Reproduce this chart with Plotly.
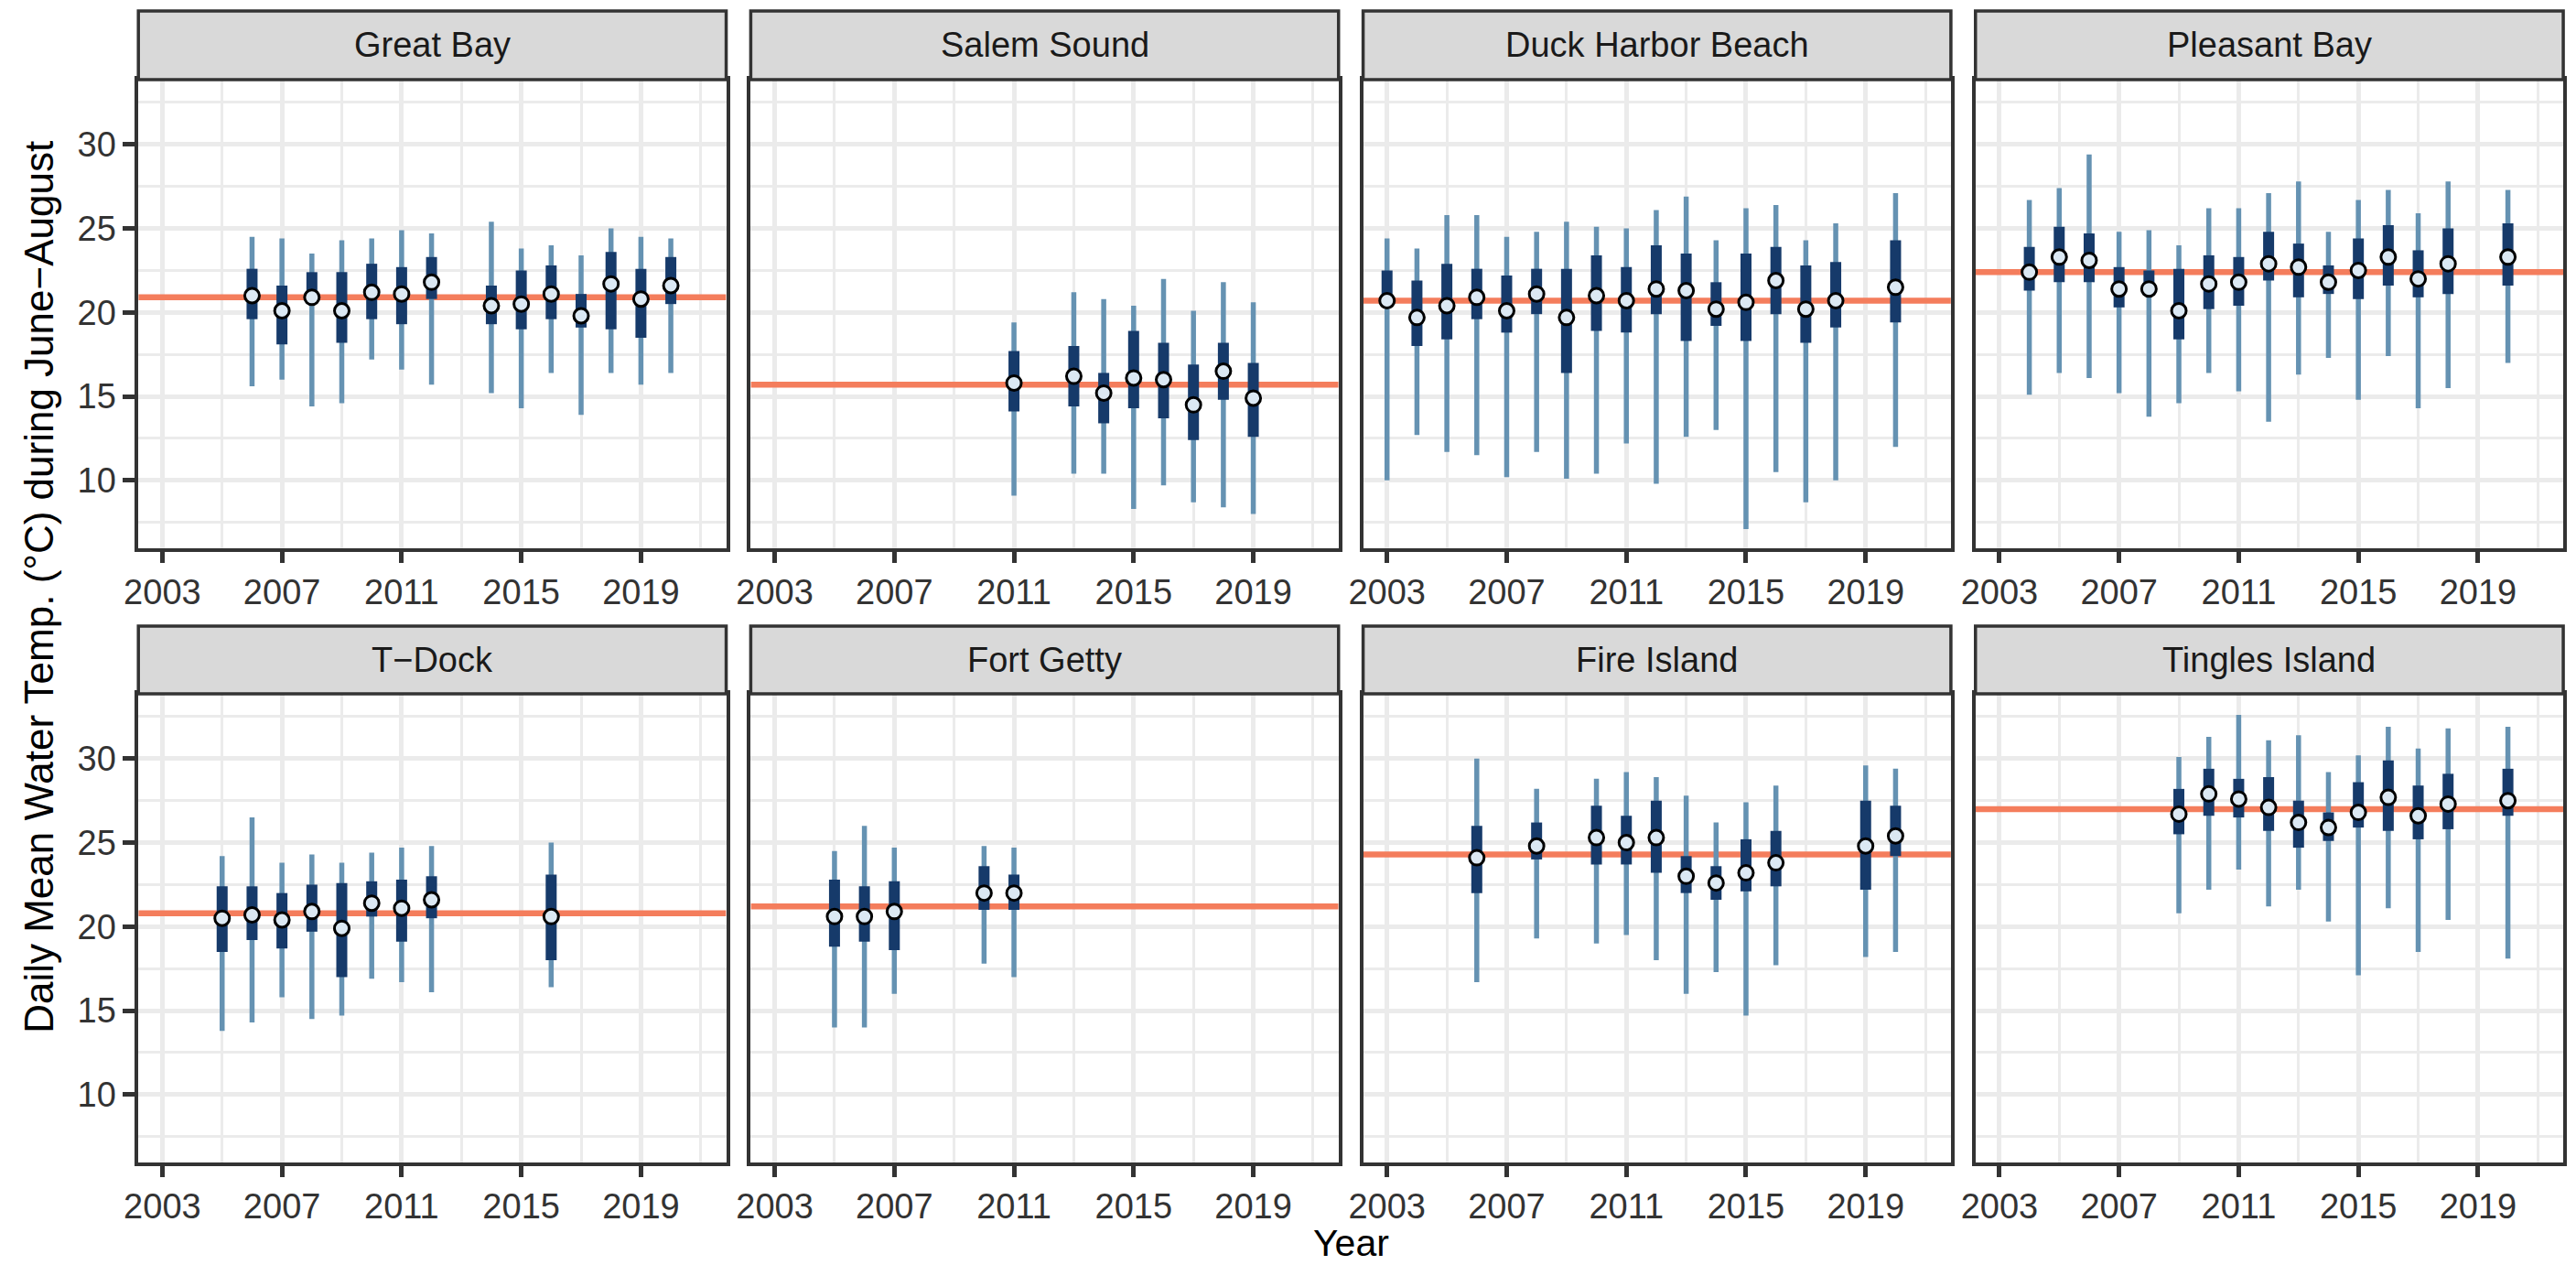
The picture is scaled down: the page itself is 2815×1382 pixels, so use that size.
"""Summer water temperature by year, one facet per site (ggplot-style grid)."""

import plotly.graph_objects as go

WIDTH, HEIGHT = 2815, 1382
FONT = "Liberation Sans, Arial, Helvetica, sans-serif"

THIN_COLOR = "#6592b2"
THICK_COLOR = "#163a6a"
POINT_FILL = "#dbe8f3"
MEAN_COLOR = "#f47d5c"
GRID_COLOR = "#ebebeb"
BORDER_COLOR = "#333333"
STRIP_FILL = "#d9d9d9"

SITES = [
    "Great Bay", "Salem Sound", "Duck Harbor Beach", "Pleasant Bay",
    "T−Dock", "Fort Getty", "Fire Island", "Tingles Island",
]
SITE_MEANS = [20.9, 15.7, 20.7, 22.4, 20.8, 21.2, 24.3, 27.0]

# low = thin bar bottom, q1/q3 = thick bar, mid = point, high = thin bar top
GREAT_BAY_YEARS = [2006, 2007, 2008, 2009, 2010, 2011, 2012, 2014, 2015, 2016, 2017, 2018, 2019, 2020]
GREAT_BAY_LOW = [15.6, 16.0, 14.4, 14.6, 17.2, 16.6, 15.7, 15.2, 14.3, 16.4, 13.9, 16.4, 15.7, 16.4]
GREAT_BAY_Q1 = [19.6, 18.1, 20.5, 18.2, 19.6, 19.3, 20.8, 19.3, 19.0, 19.6, 19.1, 19.0, 18.5, 20.5]
GREAT_BAY_MID = [21.0, 20.1, 20.9, 20.1, 21.2, 21.1, 21.8, 20.4, 20.5, 21.1, 19.8, 21.7, 20.8, 21.6]
GREAT_BAY_Q3 = [22.6, 21.6, 22.4, 22.4, 22.9, 22.7, 23.3, 21.6, 22.5, 22.8, 21.1, 23.6, 22.6, 23.3]
GREAT_BAY_HIGH = [24.5, 24.4, 23.5, 24.3, 24.4, 24.9, 24.7, 25.4, 23.8, 24.0, 23.4, 25.0, 24.5, 24.4]

SALEM_YEARS = [2011, 2013, 2014, 2015, 2016, 2017, 2018, 2019]
SALEM_LOW = [9.1, 10.4, 10.4, 8.3, 9.7, 8.7, 8.4, 8.0]
SALEM_Q1 = [14.1, 14.4, 13.4, 14.3, 13.7, 12.4, 14.8, 12.6]
SALEM_MID = [15.8, 16.2, 15.2, 16.1, 16.0, 14.5, 16.5, 14.9]
SALEM_Q3 = [17.7, 18.0, 16.4, 18.9, 18.2, 16.9, 18.2, 17.0]
SALEM_HIGH = [19.4, 21.2, 20.8, 20.4, 22.0, 20.1, 21.8, 20.6]

DUCK_YEARS = [2003, 2004, 2005, 2006, 2007, 2008, 2009, 2010, 2011, 2012, 2013, 2014, 2015, 2016, 2017, 2018, 2020]
DUCK_LOW = [10.0, 12.7, 11.7, 11.5, 10.2, 11.7, 10.1, 10.4, 12.2, 9.8, 12.6, 13.0, 7.1, 10.5, 8.7, 10.0, 12.0]
DUCK_Q1 = [20.4, 18.0, 18.4, 19.6, 18.8, 19.9, 16.4, 18.9, 18.8, 19.9, 18.3, 19.2, 18.3, 19.9, 18.2, 19.1, 19.4]
DUCK_MID = [20.7, 19.7, 20.4, 20.9, 20.1, 21.1, 19.7, 21.0, 20.7, 21.4, 21.3, 20.2, 20.6, 21.9, 20.2, 20.7, 21.5]
DUCK_Q3 = [22.5, 21.9, 22.9, 22.6, 22.2, 22.6, 22.6, 23.4, 22.7, 24.0, 23.5, 21.8, 23.5, 23.9, 22.8, 23.0, 24.3]
DUCK_HIGH = [24.4, 23.8, 25.8, 25.8, 24.5, 24.8, 25.4, 25.1, 25.0, 26.1, 26.9, 24.3, 26.2, 26.4, 24.3, 25.3, 27.1]

PLEASANT_YEARS = [2004, 2005, 2006, 2007, 2008, 2009, 2010, 2011, 2012, 2013, 2014, 2015, 2016, 2017, 2018, 2020]
PLEASANT_LOW = [15.1, 16.4, 16.1, 15.2, 13.8, 14.6, 16.4, 15.3, 13.5, 16.3, 17.3, 14.8, 17.4, 14.3, 15.5, 17.0]
PLEASANT_Q1 = [21.3, 21.8, 21.8, 20.3, 21.0, 18.4, 20.2, 20.4, 21.9, 20.9, 21.1, 20.8, 21.6, 20.9, 21.1, 21.6]
PLEASANT_MID = [22.4, 23.3, 23.1, 21.4, 21.4, 20.1, 21.7, 21.8, 22.9, 22.7, 21.8, 22.5, 23.3, 22.0, 22.9, 23.3]
PLEASANT_Q3 = [23.9, 25.1, 24.7, 22.7, 22.5, 22.6, 23.4, 23.3, 24.8, 24.1, 22.8, 24.4, 25.2, 23.7, 25.0, 25.3]
PLEASANT_HIGH = [26.7, 27.4, 29.4, 24.8, 24.9, 24.0, 26.2, 26.2, 27.1, 27.8, 24.8, 26.7, 27.3, 25.9, 27.8, 27.3]

TDOCK_YEARS = [2005, 2006, 2007, 2008, 2009, 2010, 2011, 2012, 2016]
TDOCK_LOW = [13.8, 14.3, 15.8, 14.5, 14.7, 16.9, 16.7, 16.1, 16.4]
TDOCK_Q1 = [18.5, 19.2, 18.7, 19.7, 17.0, 20.6, 19.1, 20.5, 18.0]
TDOCK_MID = [20.5, 20.7, 20.4, 20.9, 19.9, 21.4, 21.1, 21.6, 20.6]
TDOCK_Q3 = [22.4, 22.4, 22.0, 22.5, 22.6, 22.7, 22.8, 23.0, 23.1]
TDOCK_HIGH = [24.2, 26.5, 23.8, 24.3, 23.8, 24.4, 24.7, 24.8, 25.0]

GETTY_YEARS = [2005, 2006, 2007, 2010, 2011]
GETTY_LOW = [14.0, 14.0, 16.0, 17.8, 17.0]
GETTY_Q1 = [18.8, 19.1, 18.6, 21.0, 21.0]
GETTY_MID = [20.6, 20.6, 20.9, 22.0, 22.0]
GETTY_Q3 = [22.8, 22.4, 22.7, 23.6, 23.1]
GETTY_HIGH = [24.5, 26.0, 24.7, 24.8, 24.7]

FIRE_YEARS = [2006, 2008, 2010, 2011, 2012, 2013, 2014, 2015, 2016, 2019, 2020]
FIRE_LOW = [16.7, 19.3, 19.0, 19.5, 18.0, 16.0, 17.3, 14.7, 17.7, 18.2, 18.5]
FIRE_Q1 = [22.0, 24.0, 23.7, 23.7, 23.2, 22.0, 21.6, 22.1, 22.4, 22.2, 24.2]
FIRE_MID = [24.1, 24.8, 25.3, 25.0, 25.3, 23.0, 22.6, 23.2, 23.8, 24.8, 25.4]
FIRE_Q3 = [26.0, 26.2, 27.2, 26.6, 27.5, 24.2, 23.6, 25.2, 25.7, 27.5, 27.2]
FIRE_HIGH = [30.0, 28.2, 28.8, 29.2, 28.9, 27.8, 26.2, 27.4, 28.4, 29.6, 29.4]

TINGLES_YEARS = [2009, 2010, 2011, 2012, 2013, 2014, 2015, 2016, 2017, 2018, 2020]
TINGLES_LOW = [20.8, 22.2, 23.4, 21.2, 22.2, 20.3, 17.1, 21.1, 18.5, 20.4, 18.1]
TINGLES_Q1 = [25.5, 26.6, 26.5, 25.7, 24.7, 25.1, 25.9, 25.7, 25.2, 25.8, 26.6]
TINGLES_MID = [26.7, 27.9, 27.6, 27.1, 26.2, 25.9, 26.8, 27.7, 26.6, 27.3, 27.5]
TINGLES_Q3 = [28.2, 29.4, 28.8, 28.9, 27.5, 26.8, 28.6, 29.9, 28.4, 29.1, 29.4]
TINGLES_HIGH = [30.1, 31.3, 32.6, 31.1, 31.4, 29.2, 30.2, 31.9, 30.6, 31.8, 31.9]

X_TICKS = [2003, 2007, 2011, 2015, 2019]
Y_TICKS = [10, 15, 20, 25, 30]

PANEL_DATA = [
    (GREAT_BAY_YEARS, GREAT_BAY_LOW, GREAT_BAY_Q1, GREAT_BAY_MID, GREAT_BAY_Q3, GREAT_BAY_HIGH),
    (SALEM_YEARS, SALEM_LOW, SALEM_Q1, SALEM_MID, SALEM_Q3, SALEM_HIGH),
    (DUCK_YEARS, DUCK_LOW, DUCK_Q1, DUCK_MID, DUCK_Q3, DUCK_HIGH),
    (PLEASANT_YEARS, PLEASANT_LOW, PLEASANT_Q1, PLEASANT_MID, PLEASANT_Q3, PLEASANT_HIGH),
    (TDOCK_YEARS, TDOCK_LOW, TDOCK_Q1, TDOCK_MID, TDOCK_Q3, TDOCK_HIGH),
    (GETTY_YEARS, GETTY_LOW, GETTY_Q1, GETTY_MID, GETTY_Q3, GETTY_HIGH),
    (FIRE_YEARS, FIRE_LOW, FIRE_Q1, FIRE_MID, FIRE_Q3, FIRE_HIGH),
    (TINGLES_YEARS, TINGLES_LOW, TINGLES_Q1, TINGLES_MID, TINGLES_Q3, TINGLES_HIGH),
]

# panel geometry in pixels (ggplot facet_wrap look)
PANEL_LEFT, PANEL_W, PANEL_GAP = 136, 646, 27
ROWS_PX = [(12, 87, 599), (684, 758, 1270)]  # strip top, panel top, panel bottom
X_RANGE = [2002.2, 2021.85]
Y_RANGE = [5.96, 33.86]


def px_x(px):
    return px / WIDTH


def px_y(px):
    return 1 - px / HEIGHT


def range_bar(suffix, years, lower, upper, center, thickness, color):
    """Vertical segment from lower to upper at each year, drawn as error bars."""
    return go.Scatter(
        x=years,
        y=center,
        mode="markers",
        marker={"color": "rgba(0,0,0,0)", "size": 1},
        error_y={
            "type": "data",
            "symmetric": False,
            "array": [u - c for u, c in zip(upper, center)],
            "arrayminus": [c - lo for lo, c in zip(lower, center)],
            "thickness": thickness,
            "width": 0,
            "color": color,
        },
        xaxis="x" + suffix,
        yaxis="y" + suffix,
        showlegend=False,
        hoverinfo="skip",
    )


fig = go.Figure()
layout = {}
shapes = []
annotations = []

for i, (site, mean, data) in enumerate(zip(SITES, SITE_MEANS, PANEL_DATA)):
    suffix = "" if i == 0 else str(i + 1)
    row, col = divmod(i, 4)
    strip_top, panel_top, panel_bottom = ROWS_PX[row]
    left = PANEL_LEFT + col * (PANEL_W + PANEL_GAP)
    right = left + PANEL_W
    years, low, q1, mid, q3, high = data

    # site-wide mean, spanning the full panel width, under the bars
    fig.add_trace(
        go.Scatter(
            x=X_RANGE,
            y=[mean, mean],
            mode="lines",
            line={"color": MEAN_COLOR, "width": 6.5},
            xaxis="x" + suffix,
            yaxis="y" + suffix,
            showlegend=False,
            hoverinfo="skip",
        )
    )
    fig.add_trace(range_bar(suffix, years, low, high, mid, 5.5, THIN_COLOR))
    fig.add_trace(range_bar(suffix, years, q1, q3, mid, 12, THICK_COLOR))
    fig.add_trace(
        go.Scatter(
            x=years,
            y=mid,
            mode="markers",
            marker={"size": 16, "color": POINT_FILL, "line": {"color": "black", "width": 3}},
            xaxis="x" + suffix,
            yaxis="y" + suffix,
            showlegend=False,
            name=site,
        )
    )

    layout["xaxis" + suffix] = {
        "domain": [px_x(left), px_x(right)],
        "anchor": "y" + suffix,
        "range": X_RANGE,
        "tickvals": X_TICKS,
        "ticks": "outside",
        "ticklen": 12,
        "tickwidth": 5,
        "tickcolor": BORDER_COLOR,
        "tickfont": {"size": 38, "color": "#333333", "family": FONT},
        "showgrid": True,
        "gridcolor": GRID_COLOR,
        "gridwidth": 5,
        "minor": {"tick0": 2001, "dtick": 2, "showgrid": True, "gridcolor": GRID_COLOR, "gridwidth": 2.7},
        "showline": True,
        "mirror": True,
        "linecolor": BORDER_COLOR,
        "linewidth": 3.5,
        "zeroline": False,
    }
    layout["yaxis" + suffix] = {
        "domain": [px_y(panel_bottom), px_y(panel_top)],
        "anchor": "x" + suffix,
        "range": Y_RANGE,
        "tickvals": Y_TICKS,
        "ticks": "outside" if col == 0 else "",
        "showticklabels": col == 0,
        "ticklen": 13,
        "tickwidth": 5,
        "tickcolor": BORDER_COLOR,
        "tickfont": {"size": 38, "color": "#333333", "family": FONT},
        "showgrid": True,
        "gridcolor": GRID_COLOR,
        "gridwidth": 5,
        "minor": {"tick0": 7.5, "dtick": 5, "showgrid": True, "gridcolor": GRID_COLOR, "gridwidth": 2.7},
        "showline": True,
        "mirror": True,
        "linecolor": BORDER_COLOR,
        "linewidth": 3.5,
        "zeroline": False,
    }

    # facet strip
    shapes.append({
        "type": "rect",
        "xref": "paper",
        "yref": "paper",
        "x0": px_x(left),
        "x1": px_x(right),
        "y0": px_y(panel_top),
        "y1": px_y(strip_top),
        "fillcolor": STRIP_FILL,
        "line": {"color": BORDER_COLOR, "width": 3.5},
        "layer": "above",
    })
    annotations.append({
        "text": site,
        "xref": "paper",
        "yref": "paper",
        "x": px_x((left + right) / 2),
        "y": px_y((strip_top + panel_top) / 2),
        "xanchor": "center",
        "yanchor": "middle",
        "showarrow": False,
        "font": {"size": 38, "color": "#1a1a1a", "family": FONT},
    })

annotations.append({
    "text": "Daily Mean Water Temp. (°C) during June−August",
    "xref": "paper",
    "yref": "paper",
    "x": px_x(26),
    "y": px_y(641),
    "xanchor": "center",
    "yanchor": "middle",
    "textangle": -90,
    "showarrow": False,
    "font": {"size": 44, "color": "black", "family": FONT},
})
annotations.append({
    "text": "Year",
    "xref": "paper",
    "yref": "paper",
    "x": px_x(1469),
    "y": 0,
    "xanchor": "center",
    "yanchor": "bottom",
    "borderpad": 0,
    "showarrow": False,
    "font": {"size": 41, "color": "black", "family": FONT},
})

fig.update_layout(
    width=WIDTH,
    height=HEIGHT,
    autosize=False,
    margin={"l": 0, "r": 0, "t": 0, "b": 0},
    paper_bgcolor="white",
    plot_bgcolor="white",
    font={"family": FONT},
    shapes=shapes,
    annotations=annotations,
    showlegend=False,
    **layout,
)

# the default page has an 8px body margin, which would push the figure off the window
fig.write_html(
    "out.html",
    config={"displayModeBar": False},
    post_script="document.body.style.margin = '0'; document.body.style.overflow = 'hidden';",
)
